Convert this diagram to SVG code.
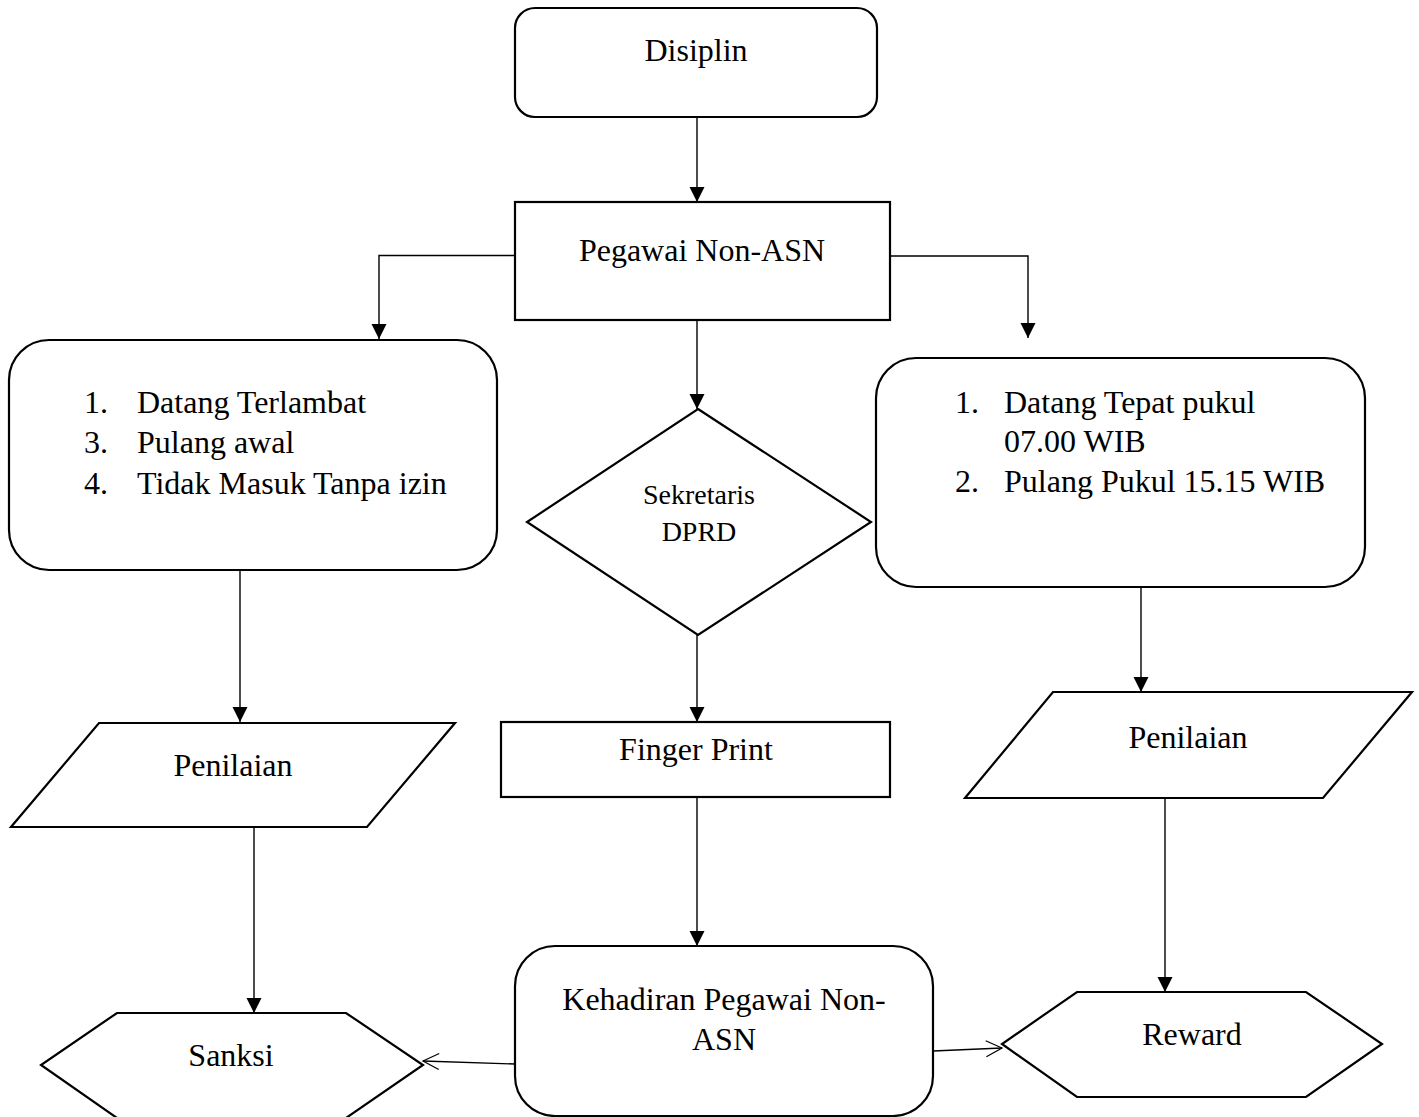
<svg xmlns="http://www.w3.org/2000/svg" width="1419" height="1117" viewBox="0 0 1419 1117">
<defs>
<marker id="arr" markerWidth="16" markerHeight="16" refX="15" refY="8" orient="auto" markerUnits="userSpaceOnUse">
<path d="M0,0.5 L15,8 L0,15.5 Z" fill="#000"/>
</marker>
<marker id="open" markerWidth="20" markerHeight="20" refX="18" refY="10" orient="auto" markerUnits="userSpaceOnUse">
<path d="M2,2 L18,10 L2,18" fill="none" stroke="#000" stroke-width="1.2"/>
</marker>
</defs>
<style>
.s{fill:#fff;stroke:#000;stroke-width:2.2}
.c{fill:none;stroke:#000;stroke-width:1.4}
text{font-family:"Liberation Serif","Times New Roman",serif;font-size:32px;fill:#000}
.m{text-anchor:middle}
</style>
<rect width="1419" height="1117" fill="#fff"/>
<g id="connectors">
<path class="c" d="M697,117 V202" marker-end="url(#arr)"/>
<path class="c" d="M515,255.5 H379 V339" marker-end="url(#arr)"/>
<path class="c" d="M890,256 H1028 V338" marker-end="url(#arr)"/>
<path class="c" d="M697,320 V409" marker-end="url(#arr)"/>
<path class="c" d="M697,635 V722" marker-end="url(#arr)"/>
<path class="c" d="M697,797 V946" marker-end="url(#arr)"/>
<path class="c" d="M240,570 V722" marker-end="url(#arr)"/>
<path class="c" d="M254,827 V1013" marker-end="url(#arr)"/>
<path class="c" d="M1141,587 V692" marker-end="url(#arr)"/>
<path class="c" d="M1165,798 V992" marker-end="url(#arr)"/>
<path class="c" d="M515,1064 L423,1061" marker-end="url(#open)"/>
<path class="c" d="M933,1051 L1002,1048" marker-end="url(#open)"/>
</g>
<g id="disiplin">
<rect class="s" x="515" y="8" width="362" height="109" rx="20"/>
<text class="m" x="696" y="61">Disiplin</text>
</g>
<g id="pegawai">
<rect class="s" x="515" y="202" width="375" height="118"/>
<text class="m" x="702" y="261">Pegawai Non-ASN</text>
</g>
<g id="pelanggaran">
<rect class="s" x="9" y="340" width="488" height="230" rx="40"/>
<text x="84" y="413">1.</text><text x="137" y="413">Datang Terlambat</text>
<text x="84" y="453">3.</text><text x="137" y="453">Pulang awal</text>
<text x="84" y="494">4.</text><text x="137" y="494">Tidak Masuk Tanpa izin</text>
</g>
<g id="sekretaris">
<polygon class="s" points="698,409 871,522 698,635 527,522"/>
<text class="m" x="699" y="504" style="font-size:28px">Sekretaris</text>
<text class="m" x="699" y="541" style="font-size:28px">DPRD</text>
</g>
<g id="tepat">
<rect class="s" x="876" y="358" width="489" height="229" rx="40"/>
<text x="955" y="413">1.</text><text x="1004" y="413">Datang Tepat pukul</text>
<text x="1004" y="452">07.00 WIB</text>
<text x="955" y="492">2.</text><text x="1004" y="492">Pulang Pukul 15.15 WIB</text>
</g>
<g id="penilaian-kiri">
<polygon class="s" points="99,723 455,723 367,827 11,827"/>
<text class="m" x="233" y="776">Penilaian</text>
</g>
<g id="finger">
<rect class="s" x="501" y="722" width="389" height="75"/>
<text class="m" x="696" y="760">Finger Print</text>
</g>
<g id="penilaian-kanan">
<polygon class="s" points="1053,692 1412,692 1323,798 965,798"/>
<text class="m" x="1188" y="748">Penilaian</text>
</g>
<g id="sanksi">
<polygon class="s" points="117,1013 346,1013 423,1065 346,1118 117,1118 41,1065"/>
<text class="m" x="231" y="1066">Sanksi</text>
</g>
<g id="kehadiran">
<rect class="s" x="515" y="946" width="418" height="170" rx="40"/>
<text class="m" x="724" y="1010">Kehadiran Pegawai Non-</text>
<text class="m" x="724" y="1050">ASN</text>
</g>
<g id="reward">
<polygon class="s" points="1077,992 1306,992 1382,1044 1306,1097 1077,1097 1002,1044"/>
<text class="m" x="1192" y="1045">Reward</text>
</g>
</svg>
